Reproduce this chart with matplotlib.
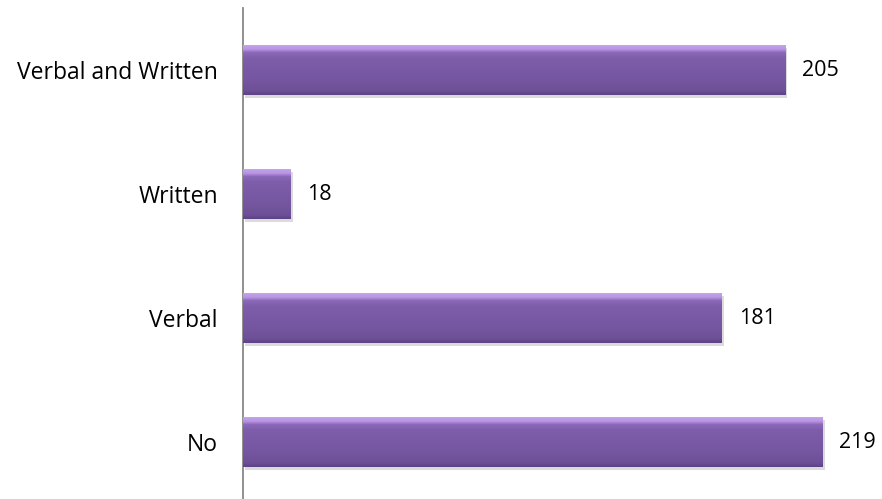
import numpy as np
import matplotlib
matplotlib.use("Agg")
import matplotlib.pyplot as plt
import matplotlib.patheffects as pe
from matplotlib.colors import LinearSegmentedColormap

categories = ["No", "Verbal", "Written", "Verbal and Written"]
counts = [219, 181, 18, 205]

plt.rcParams["font.family"] = ["Open Sans", "DejaVu Sans"]

fig = plt.figure(figsize=(8.82, 4.99), dpi=100)
ax = fig.add_axes([243 / 882, -5 / 499, 635 / 882, 496 / 499])

ypos = np.arange(len(categories))
bars = ax.barh(ypos, counts, height=0.403, color="#7B5AA6", zorder=2,
               path_effects=[pe.SimplePatchShadow(offset=(1.5, -2.5), shadow_rgbFace="#9a9a9a", alpha=0.35),
                             pe.Normal()])

# 立体感: 竖直渐变, 裁剪到每根柱子
cmap = LinearSegmentedColormap.from_list(
    "bev", [(0.0, "#5E4386"), (0.08, "#6D5097"), (0.3, "#7556A0"), (0.75, "#7E5DAA"),
            (0.86, "#8C6ABA"), (0.92, "#B893E4"), (1.0, "#C4A2EC")])
grad = np.linspace(0, 1, 64).reshape(-1, 1)
for b in bars:
    x0, y0 = b.get_x(), b.get_y()
    im = ax.imshow(grad, cmap=cmap, origin="lower", aspect="auto", zorder=3,
                   extent=(x0, x0 + b.get_width(), y0, y0 + b.get_height()))
    im.set_clip_path(b)

for y, v in zip(ypos, counts):
    ax.text(v + 6.3, y, str(v), va="center", ha="left", fontsize=15.5, color="black")

ax.set_xlim(0, 240)
ax.set_ylim(-0.5, 3.5)
ax.set_yticks(ypos)
ax.set_yticklabels(categories, fontsize=16.5)
ax.tick_params(axis="y", length=0, pad=18)
ax.set_xticks([])
for s in ["top", "right", "bottom"]:
    ax.spines[s].set_visible(False)
ax.spines["left"].set_color("#888888")
ax.spines["left"].set_linewidth(1.3)
ax.patch.set_alpha(0)

fig.savefig("out.png", dpi=100)
